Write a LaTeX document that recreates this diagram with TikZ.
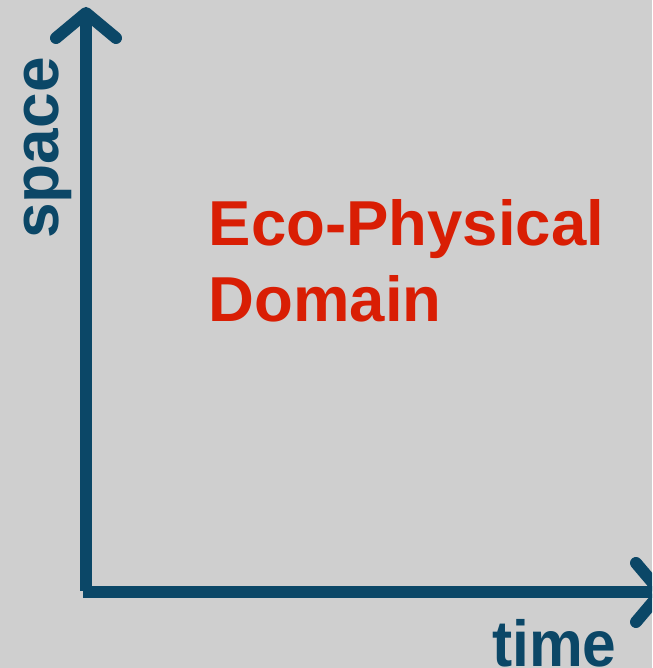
\documentclass[tikz,border=0pt]{standalone}
\usepackage{fontspec}
\setmainfont{Liberation Sans}
\definecolor{axisblue}{HTML}{0B4767}
\definecolor{domainred}{HTML}{D91E04}
\definecolor{bggray}{HTML}{CFCFCF}
\begin{document}
\begin{tikzpicture}[x=1pt,y=1pt,
  axisline/.style={line width=12pt, draw=axisblue},
  axishead/.style={line width=12pt, draw=axisblue, line cap=round, line join=round},
  axislabel/.style={text=axisblue, font=\fontsize{64}{64}\selectfont\bfseries, inner sep=0pt},
  domainlabel/.style={text=domainred, font=\fontsize{63.5}{63.5}\selectfont\bfseries, inner sep=0pt}]
% canvas
\fill[bggray] (0,0) rectangle (652,668);
\useasboundingbox (0,0) rectangle (652,668);
\clip (0,0) rectangle (652,668);
% axis geometry
\coordinate (vbase) at (86,77);
\coordinate (vtip) at (86,655);
\coordinate (vl) at (56,630);
\coordinate (vr) at (116,630);
\coordinate (hbase) at (83.3,75.5);
\coordinate (htip) at (661,75.5);
\coordinate (hu) at (636,105);
\coordinate (hd) at (636,46);
% vertical axis (space)
\draw[axisline] (vbase) -- (vtip);
\draw[axishead] (vl) -- (vtip) -- (vr);
% horizontal axis (time)
\draw[axisline] (hbase) -- (htip);
\draw[axishead] (hu) -- (htip) -- (hd);
% axis labels
\node[axislabel, rotate=90, anchor=base west] (space) at (58,429) {space};
\node[axislabel, font=\fontsize{65}{65}\selectfont\bfseries, xscale=0.93, anchor=base west] (time) at (492,1.5) {time};
% domain label
\node[domainlabel, anchor=base west] (eco) at (208.5,422) {Eco-Physical};
\node[domainlabel, anchor=base west] (domain) at (208.5,346) {Domain};
\end{tikzpicture}
\end{document}
